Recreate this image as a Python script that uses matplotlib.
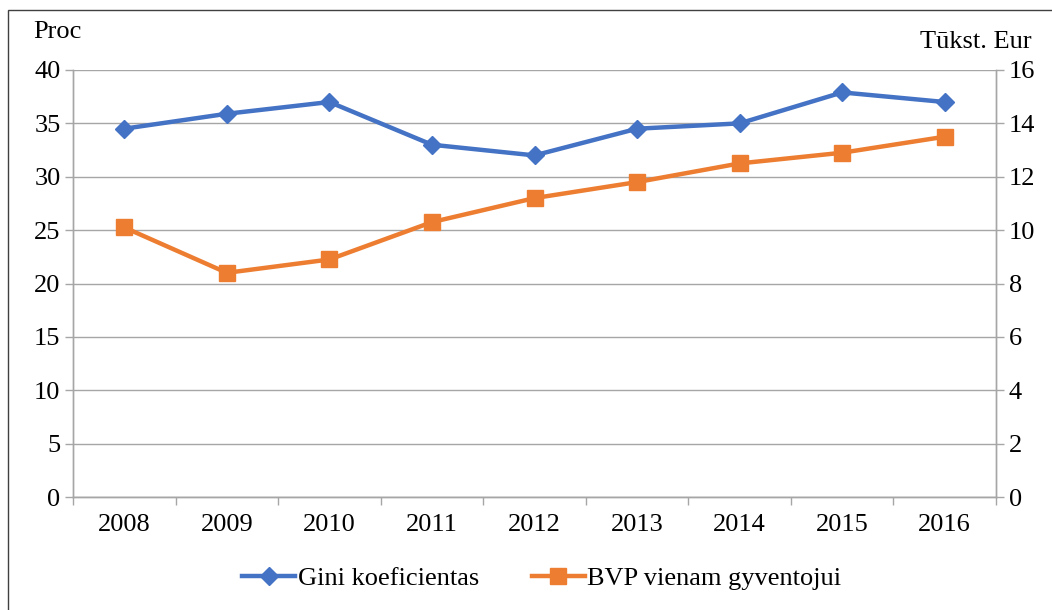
import matplotlib
matplotlib.use("Agg")
import matplotlib.pyplot as plt
from matplotlib.patches import Rectangle

years = ["2008", "2009", "2010", "2011", "2012", "2013", "2014", "2015", "2016"]
gini = [34.5, 35.9, 37.0, 33.0, 32.0, 34.5, 35.0, 37.9, 37.0]
bvp = [10.1, 8.4, 8.9, 10.3, 11.2, 11.8, 12.5, 12.9, 13.5]
left_ticks = [0, 5, 10, 15, 20, 25, 30, 35, 40]
right_ticks = [0, 2, 4, 6, 8, 10, 12, 14, 16]

plt.rcParams['font.family'] = ['Liberation Serif', 'DejaVu Serif']
FS = 19
grid_c = "#A6A6A6"
blue = "#4472C4"
orange = "#ED7D31"

fig = plt.figure(figsize=(10.52, 6.10), dpi=100)
ax = fig.add_axes([73/1052, 113/610, (996-73)/1052, (497-70)/610])
ax2 = ax.twinx()

x = list(range(len(years)))
l1, = ax.plot(x, gini, color=blue, lw=3.2, marker="D", ms=9.5, label="Gini koeficientas", zorder=3)
l2, = ax2.plot(x, bvp, color=orange, lw=3.2, marker="s", ms=11, label="BVP vienam gyventojui", zorder=3)

ax.set_xlim(-0.5, len(years) - 0.5)
ax.set_ylim(0, 40)
ax2.set_ylim(0, 16)
ax.set_yticks(left_ticks)
ax2.set_yticks(right_ticks)
ax.set_xticks(x)
ax.set_xticklabels(years)
ax.set_xticks([i + 0.5 for i in range(-1, len(years))], minor=True)
ax.tick_params(axis="x", which="major", length=0, pad=12, labelsize=FS)
ax.tick_params(axis="x", which="minor", length=6, color=grid_c, width=1)
ax.tick_params(axis="y", length=6, color=grid_c, width=1, labelsize=FS, pad=3)
ax2.tick_params(axis="y", length=6, color=grid_c, width=1, labelsize=FS, pad=3)
ax.yaxis.grid(True, color=grid_c, lw=1)
ax.set_axisbelow(True)

for a in (ax, ax2):
    a.spines["top"].set_visible(False)
    for s in ("left", "right", "bottom"):
        a.spines[s].set_color(grid_c)
        a.spines[s].set_linewidth(1)

fig.text(33/1052, 1 - 32/610, "Proc", fontsize=FS, va="center", ha="left")
fig.text(1032/1052, 1 - 42/610, "Tūkst. Eur", fontsize=FS, va="center", ha="right")

fig.legend(handles=[l1, l2], loc="center", bbox_to_anchor=(0.515, 1 - 578/610), ncol=2,
           frameon=False, fontsize=FS, handlelength=2.0, columnspacing=2.0, handletextpad=0.1)

fig.add_artist(Rectangle((8/1052, -0.05), 1.2, 1 - 10/610 + 0.05, transform=fig.transFigure,
                         fill=False, edgecolor="#404040", lw=1))

fig.savefig("out.png", dpi=100)
